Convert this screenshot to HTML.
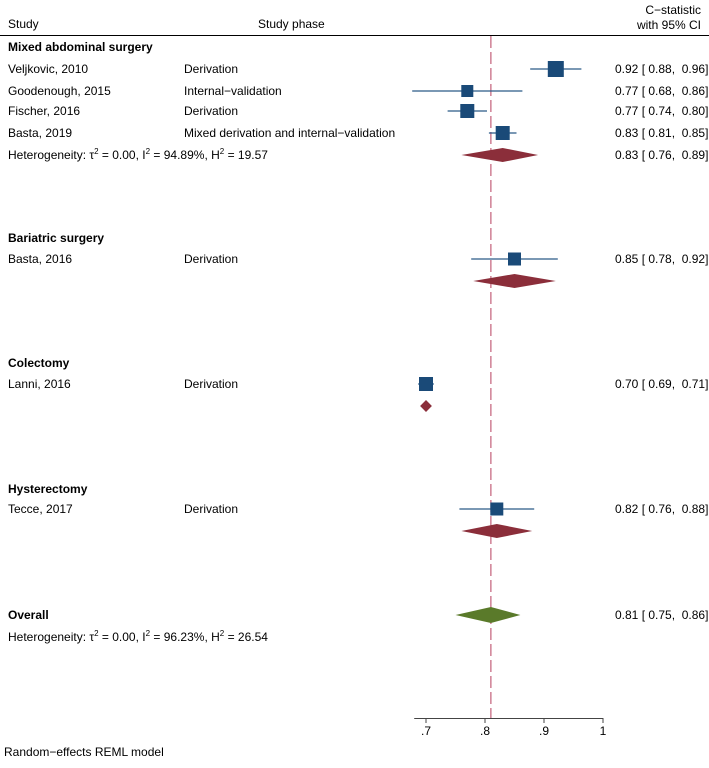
<!DOCTYPE html>
<html><head><meta charset="utf-8"><style>
body{margin:0;background:#fff;overflow:hidden;}
svg text{font-family:"Liberation Sans",Arial,sans-serif;font-size:12px;fill:#000;white-space:pre;}
</style></head><body>
<svg id="c" width="709" height="763" xmlns="http://www.w3.org/2000/svg">
<text x="8" y="28">Study</text>
<text x="258" y="28">Study phase</text>
<text x="701" y="14" text-anchor="end">C−statistic</text>
<text x="701" y="29" text-anchor="end">with 95% CI</text>
<line x1="0" y1="35.5" x2="709" y2="35.5" stroke="#000" stroke-width="1"/>
<g id="rows"></g>
<text x="4" y="756">Random−effects REML model</text>
</svg>
<script>
const labels=["Veljkovic, 2010","Goodenough, 2015","Fischer, 2016","Basta, 2019","Basta, 2016","Lanni, 2016","Tecce, 2017"];
const phases=["Derivation","Internal−validation","Derivation","Mixed derivation and internal−validation","Derivation","Derivation","Derivation"];
const est=[0.92,0.77,0.77,0.83,0.85,0.70,0.82];
const lo=[0.88,0.68,0.74,0.81,0.78,0.69,0.76];
const hi=[0.96,0.86,0.80,0.85,0.92,0.71,0.88];
const weights=[16,12,14,14,13,14,13];
const groups=["Mixed abdominal surgery","Bariatric surgery","Colectomy","Hysterectomy"];
const groupEst=[0.83,0.85,0.70,0.82];
const groupLo=[0.76,0.78,0.69,0.76];
const groupHi=[0.89,0.92,0.71,0.88];
const overall=[0.81,0.75,0.86];
const ticks=[0.7,0.8,0.9,1];
const tickLabels=[".7",".8",".9","1"];
const hetI2=["94.89%","96.23%"];
const hetH2=["19.57","26.54"];
const studyY=[69,91,111,133,259,384,509];
const groupHeadY=[47,238,363,489];
const groupDiaY=[155,281,406,531];
const NS="http://www.w3.org/2000/svg";
const g=document.getElementById('rows');
const x=v=>426+(v-0.7)*590;
function mk(t,a,txt,p){const e=document.createElementNS(NS,t);for(const k in a)e.setAttribute(k,a[k]);if(txt!==undefined)e.textContent=txt;(p||g).appendChild(e);return e;}
const f=v=>v.toFixed(2);
function valText(y,a,b,c,name){
 let v=mk('text',{x:615,y:y+4},`${f(a)} [ ${f(b)},  ${f(c)}]`);
 
 
}
function het(y,i){
 let h=mk('text',{x:8,y:y+4});
 
 
 mk('tspan',{},'Heterogeneity: τ',h);
 mk('tspan',{dy:-5,'font-size':'8px'},'2',h);
 mk('tspan',{dy:5},' = 0.00, I',h);
 mk('tspan',{dy:-5,'font-size':'8px'},'2',h);
 mk('tspan',{dy:5},` = ${hetI2[i]}, H`,h);
 mk('tspan',{dy:-5,'font-size':'8px'},'2',h);
 mk('tspan',{dy:5},` = ${hetH2[i]}`,h);
}
let e=mk('line',{x1:x(overall[0]),x2:x(overall[0]),y1:36,y2:718,stroke:'#b8405f','stroke-width':1,'stroke-dasharray':'12,4'});


groups.forEach((gn,i)=>{
 let t=mk('text',{x:8,y:groupHeadY[i]+4,'font-weight':'bold'},gn);
 
 
 const y=groupDiaY[i],hh=i===2?6:7;
 const xl=x(groupLo[i]),xh=x(groupHi[i]),xm=x(groupEst[i]);
 let d=mk('polygon',{points:`${xl},${y} ${xm},${y-hh} ${xh},${y} ${xm},${y+hh}`,fill:'#8b2e3a'});
 
 
 if(i===0){
  het(y,0);
  valText(y,groupEst[i],groupLo[i],groupHi[i],'subgroup-value');
 }
});
labels.forEach((l,i)=>{
 const y=studyY[i];
 let a=mk('text',{x:8,y:y+4},l);
 
 
 let b=mk('text',{x:184,y:y+4},phases[i]);
 
 
 let ln=mk('line',{x1:x(lo[i])-2,x2:x(hi[i])+2,y1:y,y2:y,stroke:'#2a5a88','stroke-width':1.2});
 
 
 const s=weights[i];
 let r=mk('rect',{x:x(est[i])-s/2,y:y-s/2,width:s,height:s,fill:'#1a4a78'});
 
 
 valText(y,est[i],lo[i],hi[i],'study-value');
});
let ot=mk('text',{x:8,y:619,'font-weight':'bold'},'Overall');


let od=mk('polygon',{points:`${x(overall[1])},615 ${x(overall[0])},607 ${x(overall[2])},615 ${x(overall[0])},623`,fill:'#5a7a2a'});


valText(615,overall[0],overall[1],overall[2],'overall-value');
het(637,1);
let ax=mk('line',{x1:x(0.68),x2:x(1),y1:718.5,y2:718.5,stroke:'#444','stroke-width':1});


ticks.forEach((t,i)=>{
 let tk=mk('line',{x1:x(t),x2:x(t),y1:718,y2:723,stroke:'#444'});
 
 
 let tl=mk('text',{x:x(t),y:735,'text-anchor':'middle'},tickLabels[i]);
 
 
});
</script>
</body></html>
